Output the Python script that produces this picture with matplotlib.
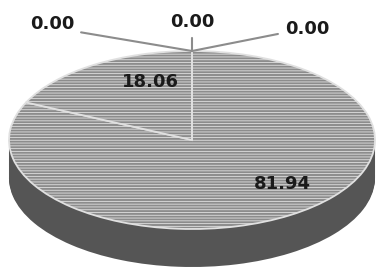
import matplotlib.pyplot as plt

# slice values (percent), drawn clockwise from 12 o'clock
categories = ['A', 'B', 'C', 'D', 'E']
values = [81.94, 18.06, 0.00, 0.00, 0.00]
# label positions for the three zero slices (figure pixels, from top)
zero_label_pos = [(52, 24), (192, 22), (307, 29)]
zero_relpos = [(1.0, 0.1), (0.5, 0.0), (0.0, 0.3)]

W, H = 377, 272
cx, cy = 192, 140      # centre of top face, px from top-left
rx, ry = 183, 89       # ellipse radii, px
depth = 38             # side thickness, px

plt.rcParams['hatch.color'] = '#555555'
plt.rcParams['hatch.linewidth'] = 0.6

fig = plt.figure(figsize=(W / 100, H / 100), dpi=100)
fig.patch.set_facecolor('white')

# axes sized so that the unit pie becomes the flattened ellipse
left = (cx - rx) / W
bottom = (H - cy - ry - depth) / H
ax = fig.add_axes([left, bottom, 2 * rx / W, (2 * ry + depth) / H])
dz = depth / ry

plot_vals = [v if v > 0 else 1e-9 for v in values]

# side of the disc: stacked copies of the pie pushed down
n = 30
for k in range(n, 0, -1):
    ax.pie(plot_vals, radius=1, center=(0, -dz * k / n), startangle=90,
           counterclock=False, colors=['#555555'] * len(values),
           hatch='------',
           wedgeprops=dict(linewidth=0, edgecolor='none'))

# top face
wedges, _ = ax.pie(plot_vals, radius=1, center=(0, 0), startangle=90,
                   counterclock=False, colors=['#8c8c8c'] * len(values),
                   hatch='------',
                   wedgeprops=dict(linewidth=1.3, edgecolor='#e0e0e0'))

ax.set_aspect('auto')
ax.set_xlim(-1, 1)
ax.set_ylim(-1 - dz, 1)
ax.axis('off')

font = dict(fontsize=13, fontweight='bold', color='#1a1a1a', family='DejaVu Sans')

# labels for the non-zero slices
ax.annotate(f'{values[1]:.2f}', xy=(150, H - 82), xycoords='figure pixels',
            ha='center', va='center', **font)
ax.annotate(f'{values[0]:.2f}', xy=(282, H - 184), xycoords='figure pixels',
            ha='center', va='center', **font)

# zero slices: labels with leader lines to the top of the pie
zeros = [v for v in values if v == 0]
for v, (px, py), rp in zip(zeros, zero_label_pos, zero_relpos):
    ax.annotate(f'{v:.2f}', xy=(0, 1), xycoords='data',
                xytext=(px, H - py), textcoords='figure pixels',
                ha='center', va='center', **font,
                arrowprops=dict(arrowstyle='-', color='#8c8c8c', lw=1.5,
                                relpos=rp, shrinkA=3, shrinkB=0))

fig.savefig('out.png', dpi=100, facecolor='white')
